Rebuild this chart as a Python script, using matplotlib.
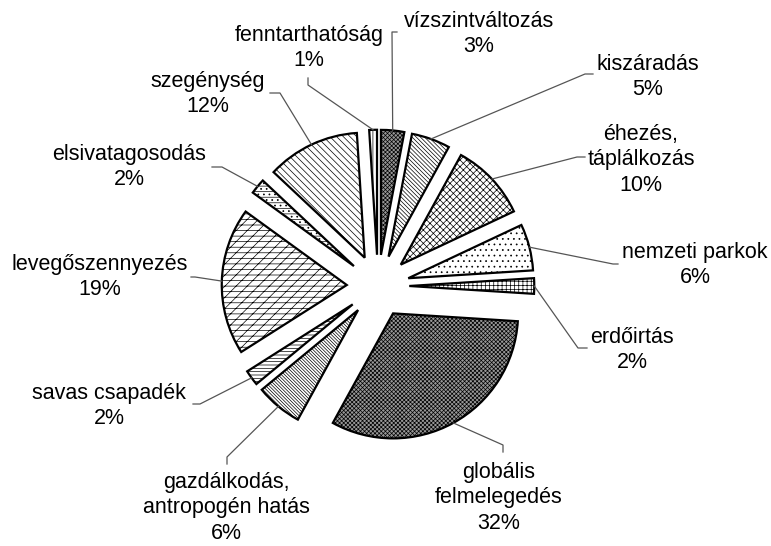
import numpy as np
import matplotlib
matplotlib.use('Agg')
import matplotlib.pyplot as plt

plt.rcParams['font.family'] = ['Liberation Sans', 'DejaVu Sans']
plt.rcParams['hatch.linewidth'] = 0.5

# adatok (órajárás szerint, felülről indulva)
labels = ['vízszintváltozás', 'kiszáradás', 'éhezés,\ntáplálkozás', 'nemzeti parkok',
          'erdőirtás', 'globális\nfelmelegedés', 'gazdálkodás,\nantropogén hatás',
          'savas csapadék', 'levegőszennyezés', 'elsivatagosodás', 'szegénység',
          'fenntarthatóság']
values = [3, 5, 10, 6, 2, 32, 6, 2, 19, 2, 12, 1]

hatches = ['xxxxxxxx', '\\' * 8, 'xxxxx', '...', '++++', 'xxxxxxxx', '\\' * 10,
           '-----', '///---', '---...', '\\' * 5, '||||']
faces = ['#989898', 'white', 'white', 'white', 'white', '#989898', 'white',
         'white', 'white', 'white', 'white', 'white']

# elrendezés pixelben
W, H = 771, 546
cx, cy = 378, H - 286
R = 125
expl = 0.25 * R

label_pos = [(479, 34), (648, 77), (641, 160), (695, 265), (632, 350), (499, 498),
             (226, 508), (109, 406), (100, 277), (129, 167), (208, 94), (309, 48)]
leader = [[(392, 32), (397, 32)], [(585, 74), (593, 74)], [(577, 157), (585, 157)],
          [(613, 264), (618, 264)], [(578, 348), (587, 348)], [(503, 445), (503, 452)],
          [(227, 457), (227, 464)], [(200, 404), (193, 404)], [(195, 277), (191, 277)],
          [(222, 167), (212, 167)], [(280, 93), (270, 93)], [(308, 85), (308, 78)]]

fig = plt.figure(figsize=(W / 100, H / 100), dpi=100)
ax = fig.add_axes([0, 0, 1, 1])

wedges, _ = ax.pie(values, explode=[expl] * len(values), startangle=90,
                   counterclock=False, radius=R, center=(cx, cy),
                   wedgeprops=dict(edgecolor='black', linewidth=1.6))
for w, h, fc in zip(wedges, hatches, faces):
    w.set_hatch(h)
    w.set_facecolor(fc)

for w, lab, v, pos, pts in zip(wedges, labels, values, label_pos, leader):
    ang = np.deg2rad((w.theta1 + w.theta2) / 2)
    x0 = cx + (R + expl) * np.cos(ang)
    y0 = cy + (R + expl) * np.sin(ang)
    xs = [x0] + [p[0] for p in pts]
    ys = [y0] + [H - p[1] for p in pts]
    ax.plot(xs, ys, color='#555555', lw=0.9)
    ax.text(pos[0], H - pos[1], f'{lab}\n{v}%', ha='center', va='center',
            fontsize=15.5, linespacing=1.3, color='black')

ax.set_xlim(0, W)
ax.set_ylim(0, H)
ax.set_aspect('equal')
ax.axis('off')

fig.savefig('out.png', dpi=100)
